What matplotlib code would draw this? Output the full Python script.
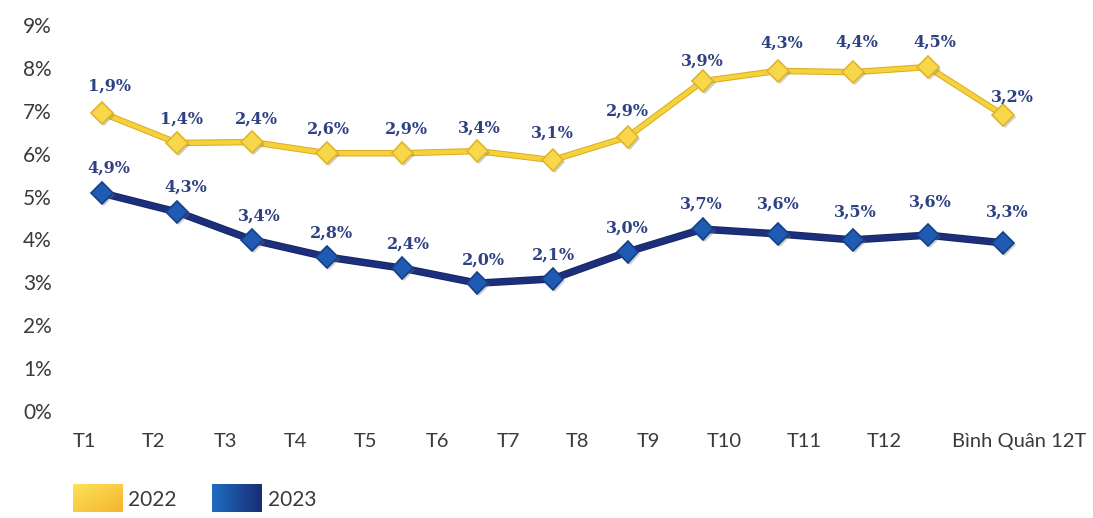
import numpy as np
import matplotlib
matplotlib.use("Agg")
import matplotlib.pyplot as plt
import matplotlib.patheffects as pe

# ---------------- data ----------------
categories = ["T1", "T2", "T3", "T4", "T5", "T6", "T7", "T8", "T9", "T10", "T11", "T12", "Bình Quân 12T"]
y_ticks = [0, 1, 2, 3, 4, 5, 6, 7, 8, 9]
y_tick_labels = ["0%", "1%", "2%", "3%", "4%", "5%", "6%", "7%", "8%", "9%"]

# plotted heights (as drawn on the chart's axis)
series_2022 = [6.95, 6.25, 6.27, 6.01, 6.01, 6.06, 5.85, 6.39, 7.69, 7.93, 7.90, 8.02, 6.90]
series_2023 = [5.08, 4.64, 3.99, 3.59, 3.33, 2.98, 3.08, 3.71, 4.24, 4.13, 3.99, 4.10, 3.92]

# printed value labels
labels_2022 = ["1,9%", "1,4%", "2,4%", "2,6%", "2,9%", "3,4%", "3,1%", "2,9%", "3,9%", "4,3%", "4,4%", "4,5%", "3,2%"]
labels_2023 = ["4,9%", "4,3%", "3,4%", "2,8%", "2,4%", "2,0%", "2,1%", "3,0%", "3,7%", "3,6%", "3,5%", "3,6%", "3,3%"]

legend_names = ["2022", "2023"]

# ---------------- layout / style ----------------
W, H, DPI = 1093, 518, 100
PX = 72.0 / DPI  # points per pixel

# pixel x of first/last point, y of 0% and 9%
pt_first_px, pt_last_px = 102, 1003
ax_bottom_px, ax_top_px = 411, 25
# horizontal extent of the axes box (pixels)
box_left_px, box_right_px = 62, 1090

# label offsets above each point (pixels)
dy_2022 = [27, 24, 23, 24, 24, 23, 27, 26, 20, 28, 30, 25, 18]
dy_2023 = [25, 25, 24, 24, 24, 23, 24, 24, 25, 30, 28, 33, 31]
dx_2022 = [8, 4, 4, 1, 4, 2, 0, 0, 0, 4, 4, 7, 9]
dx_2023 = [7, 9, 7, 4, 6, 6, 1, 0, -1, 1, 2, 2, 4]

# category label centres (pixels)
cat_px = [84, 154, 225, 295, 366, 437, 508, 578, 648, 724, 804, 884, 1019]

c_2022 = "#F6D23A"
c_2022_edge = "#D9A923"
c_2023 = "#1C2F7C"
c_2023_marker = "#1F5BB3"
label_color = "#2E4183"
axis_text = "#3A3A3A"

fig = plt.figure(figsize=(W / DPI, H / DPI), dpi=DPI)
fig.patch.set_facecolor("white")

ax = fig.add_axes([box_left_px / W, 1 - ax_bottom_px / H,
                   (box_right_px - box_left_px) / W, (ax_bottom_px - ax_top_px) / H])
for s in ax.spines.values():
    s.set_visible(False)
ax.set_facecolor("none")

step = (pt_last_px - pt_first_px) / (len(categories) - 1)
def px_to_x(p):
    return (p - pt_first_px) / step

x = np.arange(len(categories))
shadow = [pe.SimplePatchShadow(offset=(1.5, -1.5), shadow_rgbFace="#777777", alpha=0.35), pe.Normal()]

# 2022 line
ax.plot(x, series_2022, color=c_2022, lw=3.2, solid_joinstyle="round", zorder=3, clip_on=False,
        path_effects=[pe.Stroke(linewidth=4.6, foreground=c_2022_edge), pe.Normal()])
ax.plot(x, series_2022, ls="none", marker="D", ms=11, mfc="#F8D84A", mec="#E0B52A", mew=1.2,
        zorder=4, clip_on=False, path_effects=shadow)

# 2023 line
ax.plot(x, series_2023, color=c_2023, lw=4.2, solid_joinstyle="round", zorder=3, clip_on=False,
        path_effects=[pe.Stroke(linewidth=5.4, foreground="#15245F"), pe.Normal()])
ax.plot(x, series_2023, ls="none", marker="D", ms=11, mfc=c_2023_marker, mec="#163F86", mew=1.2,
        zorder=4, clip_on=False, path_effects=shadow)

lab_font = dict(family="DejaVu Serif", weight="bold", size=11.5, color=label_color)
for xi, yi, t, dy, dx in zip(x, series_2022, labels_2022, dy_2022, dx_2022):
    ax.annotate(t, (xi, yi), xytext=(dx * PX, dy * PX), textcoords="offset points",
                ha="center", va="center", zorder=5, annotation_clip=False, **lab_font)
for xi, yi, t, dy, dx in zip(x, series_2023, labels_2023, dy_2023, dx_2023):
    ax.annotate(t, (xi, yi), xytext=(dx * PX, dy * PX), textcoords="offset points",
                ha="center", va="center", zorder=5, annotation_clip=False, **lab_font)

# y axis labels
ax.set_yticks(y_ticks)
ax.set_yticklabels(y_tick_labels, family="Lato", size=15, color=axis_text)
ax.tick_params(axis="y", length=0, pad=(box_left_px - 52) * PX)

# x category labels
ax.set_xticks([px_to_x(p) for p in cat_px])
ax.set_xticklabels(categories, family="Lato", size=14.5, color=axis_text)
ax.tick_params(axis="x", length=0, pad=(443 - ax_bottom_px - 10) * PX)

ax.set_xlim(px_to_x(box_left_px), px_to_x(box_right_px))
ax.set_ylim(0, 9)

# legend with gradient swatches
def swatch(x0, y0, w, h, c1, c2, direction="diag"):
    a = fig.add_axes([x0 / W, 1 - (y0 + h) / H, w / W, h / H])
    a.axis("off")
    gx, gy = np.meshgrid(np.linspace(0, 1, 60), np.linspace(0, 1, 30))
    t = (gx + gy) / 2 if direction == "diag" else gx
    c1 = np.array(matplotlib.colors.to_rgb(c1))
    c2 = np.array(matplotlib.colors.to_rgb(c2))
    img = c1[None, None, :] * (1 - t[..., None]) + c2[None, None, :] * t[..., None]
    a.imshow(img, aspect="auto", interpolation="bilinear")

swatch(73, 484, 50, 28, "#FDE35A", "#F4B52E")
swatch(212, 484, 50, 28, "#1F6EC2", "#1A2C74", direction="h")
fig.text(128 / W, 1 - 500 / H, legend_names[0], family="Lato", size=15, color=axis_text, va="center")
fig.text(268 / W, 1 - 500 / H, legend_names[1], family="Lato", size=15, color=axis_text, va="center")

fig.savefig("out.png", dpi=DPI, facecolor="white")
